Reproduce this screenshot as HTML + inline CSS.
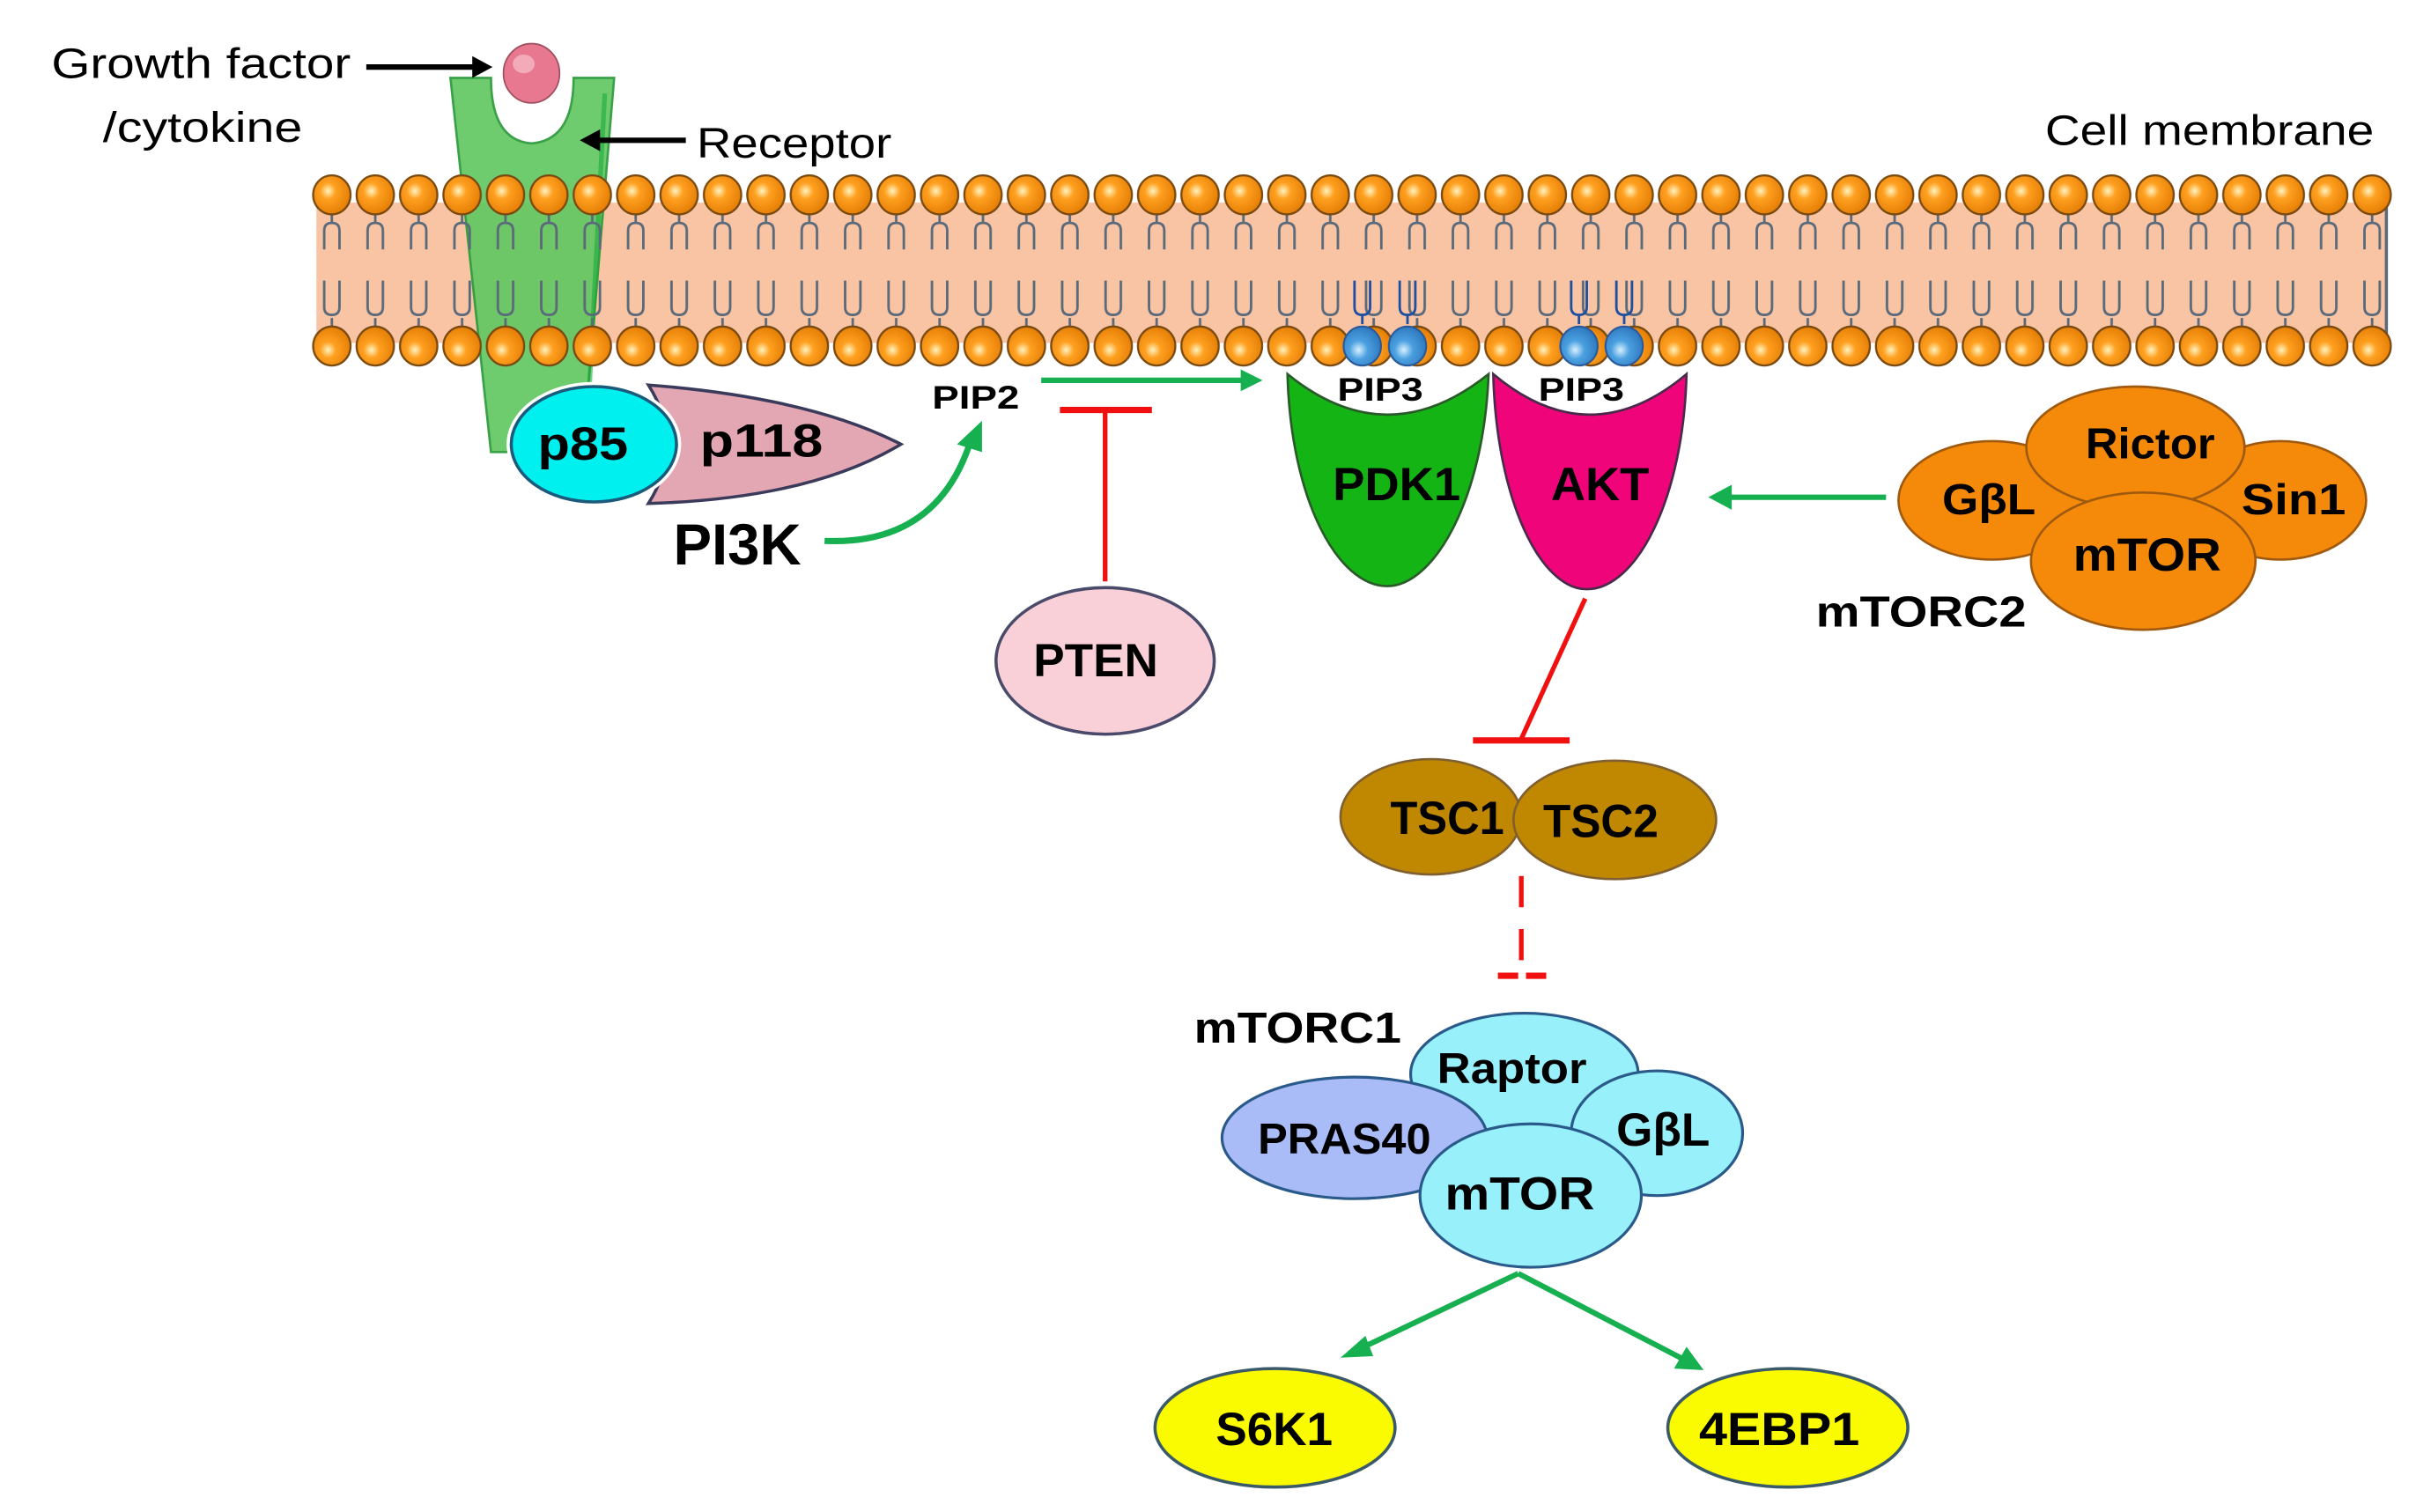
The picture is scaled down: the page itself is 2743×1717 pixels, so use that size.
<!DOCTYPE html>
<html><head><meta charset="utf-8"><style>
html,body{margin:0;padding:0;background:#fff;}
svg{display:block;}
text{font-family:"Liberation Sans Narrow","Liberation Sans",sans-serif;}
.b{font-weight:bold;}
</style></head><body>
<svg width="2743" height="1717" viewBox="0 0 1550 970" preserveAspectRatio="none" xmlns="http://www.w3.org/2000/svg">
<defs>
<radialGradient id="hg" cx="0.4" cy="0.4" r="0.7">
<stop offset="0" stop-color="#fff3c0"/><stop offset="0.3" stop-color="#ffa020"/><stop offset="1" stop-color="#e07800"/>
</radialGradient>
<radialGradient id="hgb" cx="0.4" cy="0.6" r="0.7">
<stop offset="0" stop-color="#fff3c0"/><stop offset="0.3" stop-color="#ffa020"/><stop offset="1" stop-color="#e07800"/>
</radialGradient>
<radialGradient id="bl" cx="0.4" cy="0.6" r="0.7">
<stop offset="0" stop-color="#d8f0ff"/><stop offset="0.35" stop-color="#4aa0e0"/><stop offset="1" stop-color="#2a70b8"/>
</radialGradient>
<pattern id="tails" x="199" y="0" width="27.85" height="970" patternUnits="userSpaceOnUse">
<path d="M13.9,137 v6 M9,160 v-12 q0,-5 4.9,-5 q4.9,0 4.9,5 v12 M13.9,210 v-6 M9,180 v17 q0,5 4.9,5 q4.9,0 4.9,-5 v-17" fill="none" stroke="#5a6a7a" stroke-width="1.6"/>
</pattern>
<pattern id="heads" x="199" y="0" width="27.85" height="970" patternUnits="userSpaceOnUse">
<ellipse cx="13.9" cy="125" rx="12" ry="12.5" fill="url(#hg)" stroke="#7a4a10" stroke-width="1.3"/>
<ellipse cx="13.9" cy="222" rx="12" ry="12.5" fill="url(#hgb)" stroke="#7a4a10" stroke-width="1.3"/>
</pattern>
</defs>

<rect x="203" y="130" width="1328" height="90" fill="#f9c4a4"/>
<path d="M289,50 L315,50 Q315,90 341,92 Q368,90 368,50 L394,50 L374,290 L315,290 Z" fill="#62c862" stroke="#2a9a3a" stroke-width="1.5" opacity="0.92"/>
<path d="M388,60 L376,290" fill="none" stroke="#1aaa3a" stroke-width="3" opacity="0.6"/>
<rect x="203" y="130" width="1328" height="90" fill="url(#tails)"/>
<line x1="1531" y1="130" x2="1531" y2="220" stroke="#5a6a7a" stroke-width="2"/>
<rect x="199" y="110" width="1336" height="128" fill="url(#heads)"/>
<g stroke="#1e4fa0" stroke-width="1.6" fill="none">
<path d="M874,208 v-6 M869,180 v17 q0,5 5,5 q5,0 5,-5 v-17"/>
<path d="M903,208 v-6 M898,180 v17 q0,5 5,5 q5,0 5,-5 v-17"/>
<path d="M1013,208 v-6 M1008,180 v17 q0,5 5,5 q5,0 5,-5 v-17"/>
<path d="M1042,208 v-6 M1037,180 v17 q0,5 5,5 q5,0 5,-5 v-17"/>
</g>
<g fill="url(#bl)" stroke="#2a5a9a" stroke-width="1.2">
<ellipse cx="874" cy="222" rx="12" ry="12.5"/><ellipse cx="903" cy="222" rx="12" ry="12.5"/>
<ellipse cx="1013" cy="222" rx="12" ry="12.5"/><ellipse cx="1042" cy="222" rx="12" ry="12.5"/>
</g>

<ellipse cx="341" cy="47" rx="18" ry="19" fill="#e87890" stroke="#a05060" stroke-width="1"/>
<ellipse cx="336" cy="41" rx="7" ry="6" fill="#f8c0cc" opacity="0.7"/>

<text x="33" y="50" font-size="27" textLength="192" lengthAdjust="spacingAndGlyphs">Growth factor</text>
<text x="66" y="91" font-size="27" textLength="128" lengthAdjust="spacingAndGlyphs">/cytokine</text>
<line x1="235" y1="43" x2="306" y2="43" stroke="#000" stroke-width="3.5"/>
<polygon points="316,43 303,36 303,50" fill="#000"/>
<text x="447" y="101" font-size="27" textLength="125" lengthAdjust="spacingAndGlyphs">Receptor</text>
<line x1="440" y1="90" x2="382" y2="90" stroke="#000" stroke-width="3.5"/>
<polygon points="372,90 385,83 385,97" fill="#000"/>
<text x="1312" y="93" font-size="27" textLength="211" lengthAdjust="spacingAndGlyphs">Cell membrane</text>

<path d="M416,247 Q520,255 578,285 Q520,320 416,323 Q440,285 416,247 Z" fill="#e3a7b4" stroke="#3a3a5a" stroke-width="2"/>
<ellipse cx="381" cy="285" rx="56" ry="40" fill="#fff"/>
<ellipse cx="381" cy="285" rx="53" ry="37" fill="#00f0f0" stroke="#1a5a7a" stroke-width="2"/>
<text x="345" y="295" font-size="30" class="b" textLength="58" lengthAdjust="spacingAndGlyphs">p85</text>
<text x="449" y="293" font-size="30" class="b" textLength="79" lengthAdjust="spacingAndGlyphs">p118</text>
<text x="432" y="362" font-size="37" class="b" textLength="82" lengthAdjust="spacingAndGlyphs">PI3K</text>
<path d="M529,347 Q600,350 622,285" fill="none" stroke="#16b050" stroke-width="4"/>
<polygon points="630,270 614,285 630,290" fill="#16b050"/>

<text x="598" y="262" font-size="21" class="b" textLength="56" lengthAdjust="spacingAndGlyphs">PIP2</text>
<line x1="668" y1="244" x2="798" y2="244" stroke="#16b050" stroke-width="3.5"/>
<polygon points="810,244 796,237 796,251" fill="#16b050"/>
<line x1="680" y1="263" x2="739" y2="263" stroke="#f01010" stroke-width="4"/>
<line x1="709" y1="263" x2="709" y2="373" stroke="#f01010" stroke-width="3"/>
<ellipse cx="709" cy="424" rx="70" ry="47" fill="#fad0d8" stroke="#4a4a6a" stroke-width="2"/>
<text x="663" y="434" font-size="30" class="b" textLength="80" lengthAdjust="spacingAndGlyphs">PTEN</text>

<path d="M826,240 Q890,292 955,240 C952,320 920,376 890,376 C858,376 828,320 826,240 Z" fill="#14b414" stroke="#2a5a2a" stroke-width="1.5"/>
<path d="M958,240 Q1020,292 1082,240 C1080,320 1050,378 1018,378 C988,378 960,320 958,240 Z" fill="#f0047a" stroke="#4a2a4a" stroke-width="1.5"/>
<text x="858" y="257" font-size="21" class="b" textLength="55" lengthAdjust="spacingAndGlyphs">PIP3</text>
<text x="987" y="257" font-size="21" class="b" textLength="55" lengthAdjust="spacingAndGlyphs">PIP3</text>
<text x="855" y="321" font-size="30" class="b" textLength="82" lengthAdjust="spacingAndGlyphs">PDK1</text>
<text x="995" y="321" font-size="30" class="b" textLength="63" lengthAdjust="spacingAndGlyphs">AKT</text>

<g fill="#f58a0a" stroke="#a05a10" stroke-width="1.5">
<ellipse cx="1278" cy="321" rx="60" ry="38"/>
<ellipse cx="1463" cy="321" rx="55" ry="38"/>
<ellipse cx="1370" cy="287" rx="70" ry="39"/>
<ellipse cx="1375" cy="360" rx="72" ry="44"/>
</g>
<text x="1338" y="294" font-size="28" class="b" textLength="83" lengthAdjust="spacingAndGlyphs">Rictor</text>
<text x="1246" y="330" font-size="28" class="b" textLength="60" lengthAdjust="spacingAndGlyphs">GβL</text>
<text x="1438" y="330" font-size="28" class="b" textLength="67" lengthAdjust="spacingAndGlyphs">Sin1</text>
<text x="1330" y="366" font-size="30" class="b" textLength="95" lengthAdjust="spacingAndGlyphs">mTOR</text>
<text x="1165" y="402" font-size="28" class="b" textLength="135" lengthAdjust="spacingAndGlyphs">mTORC2</text>
<line x1="1210" y1="319" x2="1110" y2="319" stroke="#16b050" stroke-width="3.5"/>
<polygon points="1096,319 1111,311 1111,327" fill="#16b050"/>

<line x1="1017" y1="384" x2="976" y2="474" stroke="#f01010" stroke-width="3"/>
<line x1="945" y1="475" x2="1007" y2="475" stroke="#f01010" stroke-width="4"/>

<ellipse cx="918" cy="524" rx="58" ry="37" fill="#c08800" stroke="#806030" stroke-width="1.5"/>
<ellipse cx="1036" cy="526" rx="65" ry="38" fill="#c08800" stroke="#806030" stroke-width="1.5"/>
<text x="892" y="535" font-size="30" class="b" textLength="73" lengthAdjust="spacingAndGlyphs">TSC1</text>
<text x="990" y="537" font-size="30" class="b" textLength="74" lengthAdjust="spacingAndGlyphs">TSC2</text>

<line x1="976" y1="562" x2="976" y2="626" stroke="#f01010" stroke-width="3" stroke-dasharray="20,14"/>
<line x1="961" y1="626" x2="992" y2="626" stroke="#f01010" stroke-width="4" stroke-dasharray="13,5"/>

<text x="766" y="669" font-size="28" class="b" textLength="133" lengthAdjust="spacingAndGlyphs">mTORC1</text>
<g stroke="#2a5a8a" stroke-width="1.8">
<ellipse cx="978" cy="689" rx="73" ry="39" fill="#98f0fa"/>
<ellipse cx="1063" cy="727" rx="55" ry="40" fill="#98f0fa"/>
<ellipse cx="869" cy="730" rx="85" ry="39" fill="#aabcf8"/>
<ellipse cx="982" cy="767" rx="71" ry="46" fill="#98f0fa"/>
</g>
<text x="922" y="695" font-size="28" class="b" textLength="96" lengthAdjust="spacingAndGlyphs">Raptor</text>
<text x="1037" y="735" font-size="30" class="b" textLength="60" lengthAdjust="spacingAndGlyphs">GβL</text>
<text x="807" y="740" font-size="28" class="b" textLength="111" lengthAdjust="spacingAndGlyphs">PRAS40</text>
<text x="927" y="776" font-size="30" class="b" textLength="96" lengthAdjust="spacingAndGlyphs">mTOR</text>

<line x1="974" y1="817" x2="873" y2="865" stroke="#16b050" stroke-width="3.5"/>
<polygon points="860,871 876,857 881,870" fill="#16b050"/>
<line x1="974" y1="817" x2="1080" y2="872" stroke="#16b050" stroke-width="3.5"/>
<polygon points="1093,879 1074,878 1082,864" fill="#16b050"/>

<ellipse cx="818" cy="916" rx="77" ry="38" fill="#fafa00" stroke="#3a5a6a" stroke-width="2"/>
<ellipse cx="1147" cy="916" rx="77" ry="38" fill="#fafa00" stroke="#3a5a6a" stroke-width="2"/>
<text x="780" y="927" font-size="30" class="b" textLength="75" lengthAdjust="spacingAndGlyphs">S6K1</text>
<text x="1090" y="927" font-size="30" class="b" textLength="103" lengthAdjust="spacingAndGlyphs">4EBP1</text>
</svg>
</body></html>
